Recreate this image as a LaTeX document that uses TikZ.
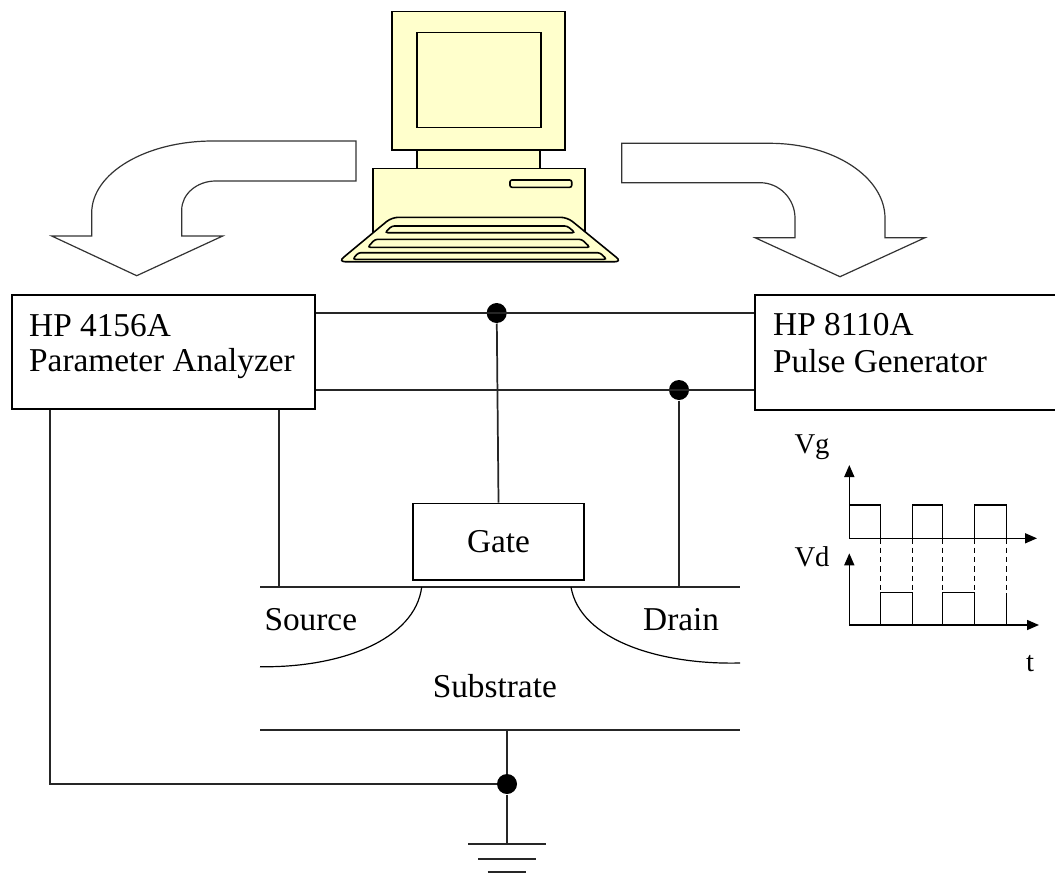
\documentclass[tikz,border=0pt]{standalone}
\usepackage{fontspec}
\setmainfont{Liberation Serif}
\usetikzlibrary{arrows.meta}

\definecolor{pcyellow}{RGB}{255,255,204}

\tikzset{every picture/.style={line width=0.75pt}}
\tikzset{
  wire/.style={line width=1.3pt, draw=black!85},
  devbox/.style={draw, line width=1.3pt, inner sep=0pt},
  junction/.style={circle, fill=black, inner sep=0pt, minimum size=15pt},
  bentarrow/.style={draw=black!80, line width=0.9pt, fill=white},
  pcpart/.style={draw, line width=1.2pt, fill=pcyellow},
  lbl/.style={inner sep=0.75pt, font=\fontsize{25}{30}\selectfont},
  wavelbl/.style={inner sep=0.75pt, font=\fontsize{21.5}{26}\selectfont},
  axis/.style={line width=1.1pt, -{Triangle[length=9pt,width=7.5pt]}},
  pulse/.style={line width=1.1pt},
}

\begin{document}
\begin{tikzpicture}[x=0.75pt,y=0.75pt,yscale=-1,xscale=1]
\path[use as bounding box, clip] (0,0) rectangle (1055,874);

%Shape: Computer base
\draw [pcpart] (372.7,168.3) rectangle (585,240) ;
%Shape: Computer neck
\draw [pcpart] (417,140) rectangle (540,168.3) ;
%Shape: Monitor
\draw [pcpart] (391.7,11.7) rectangle (565,150) ;
\draw [pcpart] (416.7,32.7) rectangle (540.7,127.3) ;
%Shape: Drive slot
\draw [pcpart, rounded corners=1.5] (510,180) rectangle (571.7,187.3) ;
%Shape: Keyboard
\draw [pcpart, rounded corners=5] (391.7,217.3) -- (567.3,217.3) -- (621.7,261.7) -- (338.3,261.7) -- cycle ;
\draw [pcpart, rounded corners=2] (391.7,226) -- (567.3,226) -- (575,232.7) -- (385,232.7) -- cycle ;
\draw [pcpart, rounded corners=2] (375,239.3) -- (581.7,239.3) -- (590,247.3) -- (367.7,247.3) -- cycle ;
\draw [pcpart, rounded corners=2] (358.3,252.7) -- (600,252.7) -- (606.7,259.3) -- (352.7,259.3) -- cycle ;

%Shape: Bent arrow to the analyzer
\draw [bentarrow] (356,141) -- (213,141) .. controls (146,141) and (91.7,173) .. (91.7,213) -- (91.7,236) -- (51.7,236) -- (136.7,275.7) -- (222.7,236) -- (181.7,236) -- (181.7,210) .. controls (181.7,194) and (197,181) .. (215.7,181) -- (356,181) -- cycle ;
%Shape: Bent arrow to the pulse generator
\draw [bentarrow] (621.7,143.3) -- (770,143.3) .. controls (833.5,143.3) and (885,177) .. (885,218.3) -- (885,237.7) -- (925,237.7) -- (840,276.7) -- (755,237.7) -- (795,237.7) -- (795,218.3) .. controls (795,198.6) and (779.3,182.7) .. (760,182.7) -- (621.7,182.7) -- cycle ;

%Shape: Instruments
\node [devbox, minimum width=227.5pt, minimum height=85.5pt] (analyzer) at (163.3,352) {} ;
\node [devbox, minimum width=240pt, minimum height=86.25pt] (pulsegen) at (915,352.5) {} ;
\draw (27.7,336.7) node [lbl, anchor=base west] (anname) {HP 4156A} ;
\draw (27.7,371.7) node [lbl, anchor=base west] (antype) {Parameter Analyzer} ;
\draw (771.7,335) node [lbl, anchor=base west] (pgname) {HP 8110A} ;
\draw (771.7,372) node [lbl, anchor=base west] (pgtype) {Pulse Generator} ;

%Shape: Device
\node [devbox, minimum width=128.7pt, minimum height=57.5pt, font=\fontsize{25}{30}\selectfont] (gate) at (498.5,541.7) {Gate} ;
\coordinate (subTL) at (260,587) ;
\coordinate (subTR) at (740,587) ;
\coordinate (subBL) at (260,730) ;
\coordinate (subBR) at (740,730) ;
\draw [wire] (subTL) -- (subTR) ;
\draw [wire] (subBL) -- (subBR) ;
\draw [line width=0.9pt] (421.7,587) .. controls (415,640) and (340,668) .. (260,666.7) ;
\draw [line width=0.9pt] (571,587) .. controls (580,640) and (660,665) .. (740,663) ;
\draw (263,630.7) node [lbl, anchor=base west] (source) {Source} ;
\draw (641.7,630.7) node [lbl, anchor=base west] (drain) {Drain} ;
\draw (494.8,697.7) node [lbl, anchor=base] (substrate) {Substrate} ;

%Straight Lines: wiring
\node [junction] (gdot) at (496.7,313) {} ;
\node [junction] (ddot) at (679,390) {} ;
\node [junction] (bdot) at (507,784) {} ;
\coordinate (srcpin) at (279,587) ;
\coordinate (gndcorner) at (50,784) ;
\coordinate (gnd) at (507,844.3) ;
\draw [wire] (analyzer.east |- gdot) -- (pulsegen.west |- gdot) ;
\draw [wire] (analyzer.east |- ddot) -- (pulsegen.west |- ddot) ;
\draw [wire] (gdot) -- (gate.north) ;
\draw [wire] (ddot) -- (ddot |- subTR) ;
\draw [wire] (srcpin |- analyzer.south) -- (srcpin) ;
\draw [wire] (gndcorner |- analyzer.south) -- (gndcorner) -- (bdot) ;
\draw [wire] (bdot |- subBL) -- (bdot) -- (gnd) ;
%Ground symbol
\draw [wire] ([xshift=-29pt]gnd) -- ([xshift=29pt]gnd) ;
\draw [wire] ([xshift=-21.4pt,yshift=11pt]gnd) -- ([xshift=21.4pt,yshift=11pt]gnd) ;
\draw [wire] ([xshift=-14.5pt,yshift=20.5pt]gnd) -- ([xshift=14.5pt,yshift=20.5pt]gnd) ;

%Waveforms
\coordinate (vgorg) at (849.3,538.3) ;
\coordinate (vdorg) at (849.3,625) ;
\draw [axis] (vgorg) -- (849.3,465) ;
\draw [axis] (vgorg) -- (1037,538.3) ;
\draw [axis] (vdorg) -- (849.3,553.3) ;
\draw [axis] (vdorg) -- (1039,625) ;
\draw [pulse] (849.3,505) -- (880.7,505) -- (880.7,538.3) ;
\draw [pulse] (912.3,538.3) -- (912.3,505) -- (942.7,505) -- (942.7,538.3) ;
\draw [pulse] (974.3,538.3) -- (974.3,505) -- (1006.7,505) -- (1006.7,538.3) ;
\draw [pulse] (880.7,625) -- (880.7,592.7) -- (912.3,592.7) -- (912.3,625) ;
\draw [pulse] (942.7,625) -- (942.7,592.7) -- (974.3,592.7) -- (974.3,625) ;
\draw [pulse] (1006.7,625) -- (1006.7,592.7) ;
\foreach \ex in {880.7,912.3,942.7,974.3,1006.7}
  \draw [pulse, dash pattern=on 4pt off 3pt] (\ex,538.3) -- (\ex,592.7) ;
\draw (793,453.3) node [wavelbl, anchor=base west] (vglbl) {Vg} ;
\draw (793,566.7) node [wavelbl, anchor=base west] (vdlbl) {Vd} ;
\draw (1030,671.7) node [wavelbl, anchor=base] (tlbl) {t} ;

\end{tikzpicture}
\end{document}
